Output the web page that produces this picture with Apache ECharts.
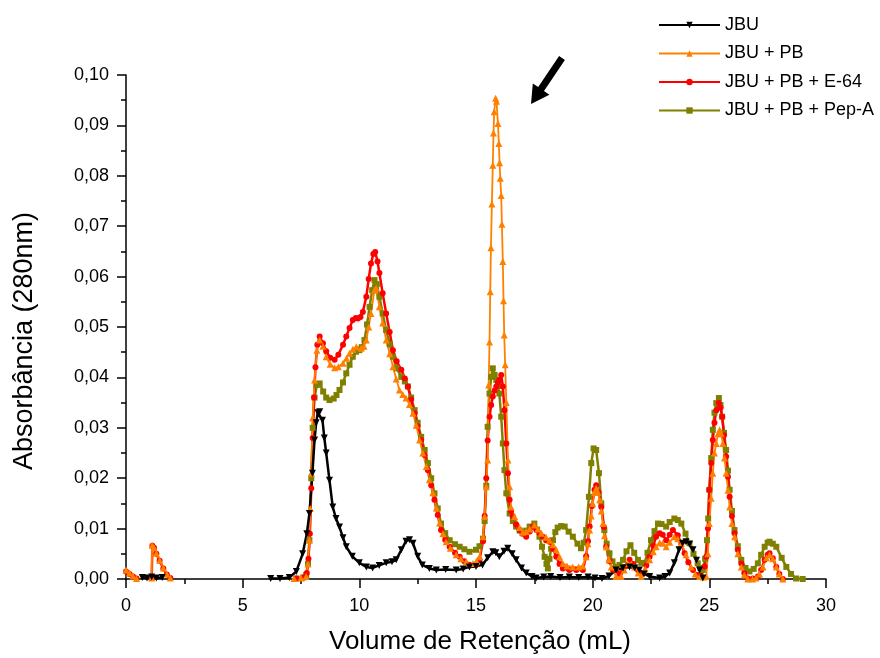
<!DOCTYPE html>
<html><head><meta charset="utf-8">
<script src="https://cdn.jsdelivr.net/npm/echarts@6/dist/echarts.min.js"></script>
<style>html,body{margin:0;padding:0;background:#fff}#c{width:880px;height:658px}</style>
</head><body><div id="c"></div>
<script>
const seriesNames = ['JBU', 'JBU + PB', 'JBU + PB + E-64', 'JBU + PB + Pep-A'];
const xTicks = [0, 5, 10, 15, 20, 25, 30];
const yTicks = [0, 0.01, 0.02, 0.03, 0.04, 0.05, 0.06, 0.07, 0.08, 0.09, 0.10];

const jbu = [[0.7,0.0003],[0.9,0.0002],[1.1,0.0004],[1.3,0.0002],[1.55,0.0003],[1.6,'-'],
[6.2,0.0001],[6.6,0.0001],[7.0,0.0003],[7.3,0.0015],[7.57,0.005],[7.75,0.009],[7.86,0.013],[7.99,0.021],[8.08,0.0276],[8.15,0.031],[8.22,0.033],[8.3,0.0332],[8.42,0.0315],[8.5,0.028],[8.58,0.025],[8.72,0.0196],[8.86,0.0143],[9.0,0.012],[9.15,0.0103],[9.3,0.0082],[9.44,0.0064],[9.7,0.0045],[10.0,0.0032],[10.3,0.0024],[10.57,0.0022],[10.85,0.0027],[11.15,0.0032],[11.4,0.0034],[11.58,0.0038],[11.8,0.0058],[12.0,0.0075],[12.15,0.0078],[12.3,0.0071],[12.5,0.0045],[12.7,0.0028],[13.0,0.0021],[13.3,0.0018],[13.7,0.0019],[14.15,0.0018],[14.45,0.002],[14.72,0.0024],[15.0,0.0025],[15.28,0.0028],[15.5,0.0042],[15.72,0.0054],[15.85,0.0052],[16.0,0.0044],[16.2,0.0055],[16.36,0.0061],[16.55,0.005],[16.72,0.0038],[16.95,0.0022],[17.15,0.0012],[17.4,0.0005],[17.58,0.0002],[17.9,0.0004],[18.2,0.0005],[18.6,0.0003],[19.0,0.0004],[19.4,0.0003],[19.8,0.0004],[20.1,0.0002],[20.4,0.0001],[20.7,0.0006],[21.0,0.0018],[21.3,0.0022],[21.58,0.0024],[21.8,0.0022],[22.0,0.0018],[22.2,0.001],[22.44,0.0005],[22.87,0.0002],[23.1,0.0005],[23.3,0.0012],[23.5,0.0032],[23.7,0.0058],[23.85,0.0071],[24.0,0.0074],[24.15,0.0069],[24.3,0.0058],[24.45,0.0037],[24.58,0.0018],[24.72,0.0002]];

const jbuPB = [[0.0,0.0018],[0.15,0.0012],[0.3,0.0006],[0.45,0.0001],[0.6,'-'],
[1.1,0.0002],[1.12,0.0067],[1.2,0.0062],[1.3,0.0051],[1.44,0.0037],[1.6,0.0022],[1.75,0.001],[1.9,0.0002],[2.0,'-'],
[7.2,0.0001],[7.5,0.0002],[7.72,0.0005],[7.8,0.003],[7.86,0.0077],[7.9,0.014],[7.94,0.021],[8.0,0.032],[8.08,0.0395],[8.18,0.0454],[8.3,0.0474],[8.44,0.0462],[8.58,0.0441],[8.75,0.0426],[8.94,0.0419],[9.1,0.0421],[9.3,0.0428],[9.45,0.0438],[9.58,0.0448],[9.72,0.0456],[9.87,0.0461],[10.08,0.0458],[10.2,0.0462],[10.3,0.0474],[10.4,0.05],[10.5,0.0527],[10.65,0.0573],[10.72,0.0577],[10.86,0.054],[11.0,0.0508],[11.15,0.0474],[11.3,0.0447],[11.44,0.0421],[11.58,0.0397],[11.72,0.0375],[11.86,0.0366],[12.0,0.0359],[12.15,0.0346],[12.3,0.0329],[12.44,0.0305],[12.58,0.0276],[12.72,0.025],[12.87,0.0223],[13.0,0.0197],[13.15,0.0171],[13.3,0.0141],[13.44,0.0111],[13.58,0.009],[13.72,0.0074],[13.9,0.0061],[14.15,0.0048],[14.35,0.004],[14.58,0.0034],[14.87,0.0031],[15.02,0.0035],[15.15,0.0044],[15.3,0.0084],[15.37,0.0124],[15.44,0.0183],[15.5,0.0236],[15.54,0.0385],[15.58,0.047],[15.61,0.057],[15.64,0.0657],[15.68,0.0744],[15.72,0.0821],[15.75,0.0885],[15.78,0.0927],[15.84,0.0954],[15.88,0.0948],[15.94,0.0904],[15.98,0.0864],[16.01,0.0826],[16.04,0.0795],[16.08,0.0761],[16.11,0.0704],[16.15,0.063],[16.18,0.0552],[16.21,0.0484],[16.25,0.0425],[16.3,0.035],[16.37,0.0236],[16.44,0.0183],[16.5,0.0143],[16.65,0.0124],[16.87,0.0102],[17.0,0.0093],[17.15,0.0094],[17.3,0.0099],[17.5,0.0107],[17.65,0.0099],[17.8,0.0091],[18.0,0.0083],[18.15,0.0077],[18.3,0.0068],[18.44,0.0058],[18.58,0.0044],[18.72,0.0031],[18.9,0.0026],[19.15,0.0024],[19.4,0.0024],[19.58,0.0026],[19.72,0.0044],[19.8,0.007],[19.87,0.0097],[19.94,0.0125],[20.0,0.015],[20.08,0.0172],[20.15,0.018],[20.22,0.0172],[20.3,0.0157],[20.37,0.0135],[20.44,0.011],[20.51,0.0086],[20.58,0.0064],[20.7,0.0038],[20.8,0.0024],[21.0,0.0005],[21.22,0.0005],[21.35,0.0018],[21.5,0.0031],[21.65,0.003],[21.8,0.0024],[21.95,0.0012],[22.08,0.0005],[22.25,0.002],[22.44,0.0038],[22.6,0.0054],[22.72,0.0064],[22.87,0.0072],[23.0,0.0071],[23.15,0.0064],[23.3,0.0073],[23.5,0.0084],[23.65,0.008],[23.8,0.0071],[24.0,0.0048],[24.22,0.0024],[24.4,0.001],[24.58,0.0005],[24.75,0.0004],[24.87,0.0005],[24.94,0.005],[25.0,0.011],[25.08,0.016],[25.15,0.021],[25.22,0.025],[25.3,0.0269],[25.37,0.0288],[25.44,0.0296],[25.51,0.0288],[25.58,0.0269],[25.65,0.024],[25.72,0.021],[25.8,0.0176],[25.87,0.0143],[25.97,0.011],[26.08,0.0084],[26.22,0.005],[26.37,0.0024],[26.5,0.0008],[26.65,0.0],[26.85,0.0],[27.0,0.0002],[27.15,0.001],[27.3,0.0024],[27.45,0.0042],[27.58,0.0048],[27.72,0.004],[27.87,0.0024],[28.0,0.001],[28.15,0.0]];

const jbuPBE64 = [[0,0.0015],[0.15,0.001],[0.3,0.0005],[0.45,0.0001],[0.6,'-'],
[1.1,0.0002],[1.13,0.0066],[1.2,0.0062],[1.3,0.005],[1.44,0.0036],[1.6,0.0021],[1.75,0.0009],[1.9,0.0002],[2.0,'-'],
[7.3,0.0001],[7.6,0.0003],[7.75,0.0012],[7.82,0.004],[7.88,0.009],[7.94,0.018],[8.0,0.028],[8.06,0.036],[8.12,0.042],[8.2,0.0465],[8.3,0.0481],[8.44,0.0468],[8.58,0.0452],[8.75,0.0439],[8.94,0.0435],[9.1,0.0445],[9.3,0.0465],[9.44,0.0481],[9.58,0.0498],[9.72,0.0514],[9.85,0.0518],[9.94,0.0517],[10.05,0.052],[10.15,0.053],[10.3,0.056],[10.4,0.0595],[10.5,0.0626],[10.6,0.0645],[10.68,0.0649],[10.78,0.063],[10.86,0.0607],[11.0,0.0567],[11.15,0.0527],[11.3,0.049],[11.44,0.0454],[11.6,0.0432],[11.8,0.0415],[11.95,0.0398],[12.08,0.0382],[12.22,0.0356],[12.37,0.0329],[12.5,0.0303],[12.65,0.0276],[12.8,0.0246],[12.94,0.0216],[13.08,0.0186],[13.22,0.0157],[13.36,0.0127],[13.5,0.0097],[13.68,0.0078],[13.87,0.0064],[14.1,0.0052],[14.3,0.0044],[14.5,0.0035],[14.72,0.0028],[15.0,0.0028],[15.15,0.0038],[15.3,0.0075],[15.37,0.0125],[15.44,0.02],[15.5,0.0275],[15.58,0.0322],[15.65,0.0345],[15.72,0.0362],[15.8,0.0374],[15.87,0.0382],[15.94,0.039],[16.0,0.0395],[16.08,0.0405],[16.15,0.0382],[16.22,0.0335],[16.3,0.0269],[16.37,0.021],[16.44,0.0157],[16.5,0.0135],[16.58,0.0124],[16.72,0.0108],[16.87,0.0097],[17.0,0.009],[17.15,0.0084],[17.3,0.0094],[17.44,0.0104],[17.58,0.0098],[17.72,0.0091],[17.86,0.0084],[18.0,0.0077],[18.15,0.0074],[18.3,0.006],[18.44,0.0044],[18.58,0.003],[18.72,0.0021],[19.0,0.0018],[19.3,0.0018],[19.58,0.0018],[19.72,0.0045],[19.8,0.0075],[19.87,0.0104],[19.97,0.0145],[20.08,0.0177],[20.15,0.0186],[20.25,0.0172],[20.37,0.0143],[20.48,0.0103],[20.58,0.0064],[20.72,0.0035],[20.87,0.0018],[21.15,0.0011],[21.35,0.0024],[21.58,0.0038],[21.75,0.003],[21.94,0.0018],[22.15,0.0011],[22.3,0.0027],[22.44,0.0044],[22.6,0.0066],[22.72,0.0084],[22.87,0.0091],[23.0,0.0088],[23.15,0.0077],[23.3,0.0088],[23.44,0.0097],[23.65,0.0087],[23.8,0.007],[23.94,0.0051],[24.1,0.0033],[24.3,0.0018],[24.5,0.0008],[24.65,0.0005],[24.8,0.0025],[24.87,0.0044],[24.94,0.01],[25.0,0.0177],[25.08,0.023],[25.15,0.0276],[25.22,0.031],[25.3,0.0335],[25.41,0.0349],[25.48,0.034],[25.55,0.0322],[25.63,0.0285],[25.72,0.0243],[25.8,0.0203],[25.87,0.0163],[25.97,0.0125],[26.08,0.0091],[26.22,0.0058],[26.37,0.0031],[26.5,0.0012],[26.65,0.0001],[26.87,0.0001],[27.08,0.0005],[27.22,0.0018],[27.37,0.0038],[27.5,0.0048],[27.58,0.0051],[27.72,0.0041],[27.87,0.0024],[28.0,0.001],[28.15,0.0]];

const jbuPBPepA = [[7.3,0.0001],[7.6,0.0003],[7.72,0.0008],[7.8,0.003],[7.86,0.0077],[7.94,0.02],[8.0,0.03],[8.08,0.036],[8.18,0.0385],[8.3,0.0388],[8.45,0.0372],[8.58,0.036],[8.72,0.0355],[8.9,0.0358],[9.02,0.0365],[9.15,0.0375],[9.3,0.039],[9.44,0.0408],[9.58,0.0425],[9.72,0.0441],[9.86,0.0451],[10.0,0.0454],[10.1,0.046],[10.22,0.0474],[10.33,0.0505],[10.44,0.054],[10.55,0.0573],[10.65,0.0593],[10.75,0.0585],[10.86,0.056],[11.0,0.0527],[11.15,0.0494],[11.3,0.0466],[11.44,0.0441],[11.6,0.0418],[11.8,0.0401],[11.95,0.0392],[12.08,0.0382],[12.22,0.036],[12.37,0.0335],[12.5,0.031],[12.65,0.0282],[12.8,0.0256],[12.94,0.023],[13.08,0.02],[13.22,0.017],[13.36,0.014],[13.5,0.011],[13.68,0.0091],[13.87,0.0077],[14.1,0.0069],[14.3,0.0064],[14.5,0.0059],[14.72,0.0054],[15.0,0.0058],[15.15,0.0065],[15.3,0.008],[15.37,0.0115],[15.44,0.0185],[15.5,0.0302],[15.58,0.0368],[15.65,0.0401],[15.72,0.0418],[15.8,0.0405],[15.87,0.0395],[15.94,0.0383],[16.0,0.0368],[16.08,0.0322],[16.15,0.0269],[16.22,0.0216],[16.3,0.017],[16.44,0.013],[16.58,0.0115],[16.72,0.0104],[16.87,0.0096],[17.0,0.0091],[17.15,0.0096],[17.3,0.0104],[17.5,0.011],[17.62,0.0098],[17.72,0.0084],[17.83,0.0064],[17.94,0.0044],[18.02,0.003],[18.08,0.0021],[18.15,0.004],[18.22,0.006],[18.3,0.0077],[18.4,0.0093],[18.5,0.0102],[18.65,0.0105],[18.8,0.0104],[18.97,0.0094],[19.15,0.0084],[19.35,0.007],[19.5,0.0061],[19.62,0.0072],[19.72,0.0097],[19.84,0.0163],[19.94,0.023],[20.04,0.0259],[20.15,0.0256],[20.27,0.021],[20.37,0.015],[20.5,0.0097],[20.6,0.007],[20.72,0.0051],[20.85,0.0035],[21.0,0.0024],[21.15,0.0028],[21.3,0.0038],[21.45,0.0055],[21.62,0.0067],[21.78,0.0052],[21.94,0.0038],[22.08,0.0032],[22.22,0.0031],[22.35,0.0052],[22.5,0.0077],[22.65,0.0095],[22.8,0.011],[22.95,0.0109],[23.15,0.0104],[23.3,0.0113],[23.5,0.012],[23.65,0.0117],[23.8,0.011],[23.98,0.009],[24.15,0.0071],[24.32,0.005],[24.5,0.0031],[24.62,0.0022],[24.72,0.0018],[24.82,0.004],[24.9,0.0077],[24.95,0.012],[25.0,0.0177],[25.08,0.024],[25.15,0.0296],[25.22,0.033],[25.3,0.0349],[25.41,0.0359],[25.48,0.0345],[25.55,0.0322],[25.63,0.029],[25.72,0.0256],[25.8,0.0215],[25.87,0.0177],[25.97,0.0135],[26.08,0.0097],[26.22,0.0065],[26.37,0.0038],[26.55,0.0022],[26.72,0.0015],[26.9,0.002],[27.08,0.0031],[27.22,0.0048],[27.37,0.0064],[27.5,0.0072],[27.58,0.0074],[27.72,0.007],[27.87,0.0064],[28.1,0.0042],[28.3,0.0024],[28.5,0.001],[28.72,0.0001],[29.0,0.0]];

const chart = echarts.init(document.getElementById('c'), null, {renderer: 'canvas'});
const FONT = 'Liberation Sans, Arial, sans-serif';
function mk(name, data, color, symbol, size, lw, rot) {
  return {
    name, type: 'line', data, color,
    symbol, symbolSize: size, symbolRotate: rot || 0,
    showSymbol: true, showAllSymbol: true,
    lineStyle: {width: lw, color},
    itemStyle: {color, borderWidth: 0},
    connectNulls: false, clip: true, z: 2
  };
}
chart.setOption({
  animation: false,
  backgroundColor: '#fff',
  grid: {left: 126, top: 75, width: 700, height: 504, containLabel: false, outerBoundsMode: 'none'},
  legend: {
    orient: 'vertical', left: 658, top: 16, padding: 0,
    itemWidth: 61, itemHeight: 8, itemGap: 10.5,
    data: seriesNames,
    textStyle: {fontFamily: FONT, fontSize: 18, color: '#000', padding: [0, 0, 0, 0]},
    selectedMode: false
  },
  xAxis: {
    type: 'value', min: 0, max: 30, interval: 5,
    name: 'Volume de Retenção (mL)', nameLocation: 'middle', nameGap: 50,
    nameTextStyle: {fontFamily: FONT, fontSize: 26, color: '#000', padding: [0, 0, 0, 8]},
    axisLine: {show: true, onZero: false, lineStyle: {color: '#000', width: 1.5}},
    axisTick: {show: true, inside: false, length: 9, lineStyle: {color: '#000', width: 1.5}},
    minorTick: {show: true, splitNumber: 2, length: 5, lineStyle: {color: '#000', width: 1.5}},
    axisLabel: {fontFamily: FONT, fontSize: 18, color: '#000', margin: 18,
      formatter: v => xTicks.includes(v) ? String(v) : ''},
    splitLine: {show: false}
  },
  yAxis: {
    type: 'value', min: 0, max: 0.10, interval: 0.01,
    name: 'Absorbância (280nm)', nameLocation: 'middle', nameGap: 88, nameRotate: 90,
    nameTextStyle: {fontFamily: FONT, fontSize: 27, color: '#000', padding: [0, 28, 0, 0]},
    axisLine: {show: true, onZero: false, lineStyle: {color: '#000', width: 1.5}},
    axisTick: {show: true, inside: false, length: 9, lineStyle: {color: '#000', width: 1.5}},
    minorTick: {show: true, splitNumber: 2, length: 5, lineStyle: {color: '#000', width: 1.5}},
    axisLabel: {fontFamily: FONT, fontSize: 18, color: '#000', margin: 17,
      formatter: v => yTicks.some(t => Math.abs(t - v) < 1e-9) ? v.toFixed(2).replace('.', ',') : ''},
    splitLine: {show: false}
  },
  series: [
    mk(seriesNames[3], jbuPBPepA, '#808000', 'rect', 6, 2.5),
    mk(seriesNames[2], jbuPBE64, '#ff0000', 'circle', 6, 2.5),
    mk(seriesNames[1], jbuPB, '#ff8000', 'triangle', 7, 1.8),
    mk(seriesNames[0], jbu, '#000000', 'triangle', 7, 2.5, 180)
  ],
  graphic: [{
    type: 'polygon',
    shape: {points: [[559.1,56.0],[564.9,60.0],[544.0,91.1],[549.4,94.7],[531,104],[532.8,83.5],[538.2,87.1]]},
    style: {fill: '#000'}
  }]
});
</script>
</body></html>
